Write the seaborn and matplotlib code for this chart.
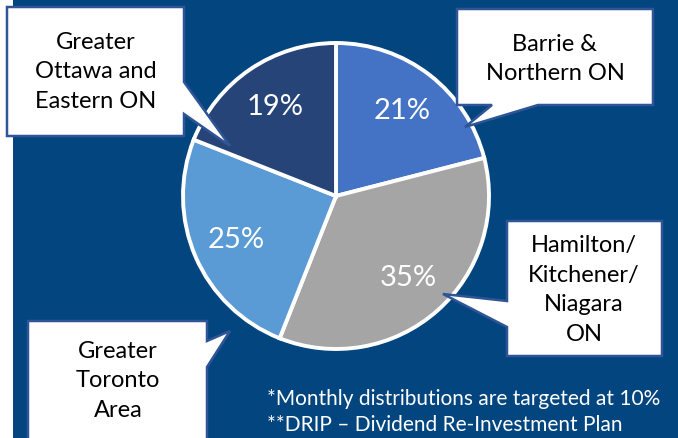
import matplotlib
matplotlib.use("Agg")
import matplotlib.pyplot as plt
import seaborn as sns
from matplotlib.patches import Polygon, Rectangle

# data
regions = ["Barrie &\nNorthern ON", "Hamilton/\nKitchener/\nNiagara\nON",
           "Greater\nToronto\nArea", "Greater\nOttawa and\nEastern ON"]
shares = [21, 35, 25, 19]
slice_colors = ["#4472C4", "#A5A5A5", "#5B9BD5", "#264478"]
notes = ["*Monthly distributions are targeted at 10%",
         "**DRIP \u2013 Dividend Re-Investment Plan"]

sns.set_theme(style="white")
plt.rcParams["font.family"] = ["Lato", "DejaVu Sans"]

W, H = 678, 439
bg = "#03467F"
border = "#2F5597"

fig = plt.figure(figsize=(W / 100, H / 100), dpi=100, facecolor="white")
ax = fig.add_axes([0, 0, 1, 1])
ax.set_xlim(0, W)
ax.set_ylim(0, H)
ax.set_aspect("equal")
ax.axis("off")


def py(y):
    return H - y


ax.add_patch(Rectangle((13, 0), W - 13, H, facecolor=bg, edgecolor="none", zorder=0))

wedges, texts, autotexts = ax.pie(
    shares, colors=slice_colors, startangle=90, counterclock=False,
    center=(336, py(197)), radius=153, autopct="%d%%", pctdistance=0.71,
    wedgeprops=dict(edgecolor="white", linewidth=2.8),
    textprops=dict(color="white", fontsize=21), frame=True)
ax.set_xlim(0, W)
ax.set_ylim(0, H)
ax.axis("off")

# callout boxes (pixel coords, y down)
callouts = {
    0: [(457, 10), (653, 10), (653, 106), (538, 106), (465, 128), (492, 106), (457, 106)],
    1: [(507, 222), (662, 222), (662, 357), (507, 357), (507, 328), (443, 295), (507, 302)],
    2: [(28, 322), (207, 322), (207, 342), (230, 332), (207, 368), (207, 450), (28, 450)],
    3: [(7, 8), (184, 8), (184, 83), (230, 147), (184, 115), (184, 137), (7, 137)],
}
text_pos = {0: (555, 59), 1: (584, 290), 2: (118, 381), 3: (96, 72)}

for i, label in enumerate(regions):
    pts = [(x, py(y)) for x, y in callouts[i]]
    ax.add_patch(Polygon(pts, closed=True, facecolor="white", edgecolor=border,
                         linewidth=1.8, zorder=5))
    tx, ty = text_pos[i]
    ax.text(tx, py(ty), label, ha="center", va="center", fontsize=17,
            color="black", linespacing=1.5, zorder=6)

ax.text(267, py(399), notes[0], ha="left", va="center", fontsize=15, color="white")
ax.text(267, py(425), notes[1], ha="left", va="center", fontsize=15, color="white")

fig.savefig("out.png", dpi=100, facecolor=fig.get_facecolor())
